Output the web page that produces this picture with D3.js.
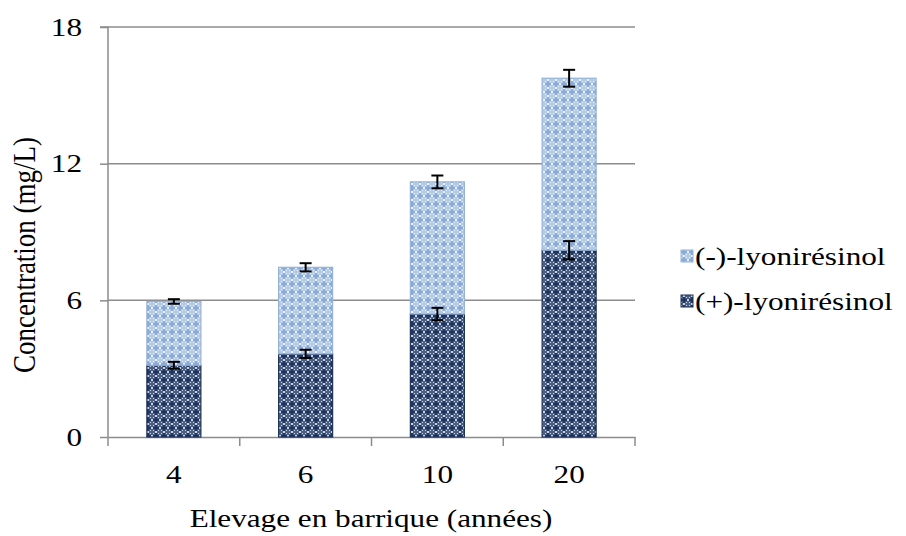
<!DOCTYPE html>
<html><head><meta charset="utf-8">
<script src="https://cdn.jsdelivr.net/npm/d3@7/dist/d3.min.js"></script>
</head><body style="margin:0"><svg id="c" width="906" height="536" font-family="Liberation Serif" style="display:block"></svg>
<script>
const categories = ["4", "6", "10", "20"];
const seriesNames = ["(+)-lyonirésinol", "(-)-lyonirésinol"];
const plusValues = [3.15, 3.65, 5.4, 8.2];
const plusErrors = [0.15, 0.18, 0.27, 0.4];
const minusValues = [2.8, 3.8, 5.8, 7.55];
const minusErrors = [0.1, 0.18, 0.28, 0.37];
const yTicks = [0, 6, 12, 18];

const FONT = "Liberation Serif";
const FS = 26, SX = 1.2;
const svg = d3.select("#c");
const m = {l:108, r:635, t:27, b:437};
const x = d3.scaleBand().domain(categories).range([m.l, m.r]).paddingInner(0.59).paddingOuter(0.295);
const y = d3.scaleLinear().domain([0, 18]).range([m.b, m.t]);
const defs = svg.append("defs");
function pat(id, base, dot, cross){
  const p = defs.append("pattern").attr("id", id).attr("patternUnits","userSpaceOnUse").attr("width",8).attr("height",8);
  p.append("rect").attr("width",8).attr("height",8).attr("fill",base);
  p.append("rect").attr("x",3).attr("y",1).attr("width",2).attr("height",6).attr("fill",cross);
  p.append("rect").attr("x",1).attr("y",3).attr("width",6).attr("height",2).attr("fill",cross);
  [[0,3],[0,4],[7,3],[7,4],[3,0],[4,0],[3,7],[4,7],[1,1],[6,1],[1,6],[6,6]].forEach(([a,b])=>
    p.append("rect").attr("x",a).attr("y",b).attr("width",1).attr("height",1).attr("fill",dot));
}
pat("pMinus", "#b3c9e8", "#eef3fa", "#8aaad8");
pat("pPlus", "#4a5f82", "#c9d3e2", "#1f3560");

svg.append("g").selectAll("line").data(yTicks.filter(d=>d>0)).join("line")
  .attr("x1", m.l).attr("x2", m.r).attr("y1", d=>y(d)).attr("y2", d=>y(d))
  .attr("stroke", "#8c8c8c").attr("stroke-width", 1.5);

const ya = svg.append("g").attr("transform",`translate(${m.l},0)`)
  .call(d3.axisLeft(y).tickValues(yTicks).tickSize(8).tickPadding(18));
ya.attr("font-family", FONT).attr("font-size", FS);
ya.select(".domain").attr("stroke","#8c8c8c").attr("stroke-width",1.5).attr("d",`M-8,${m.t}H0V${m.b}`);
ya.selectAll(".tick line").attr("stroke","#8c8c8c").attr("stroke-width",1.5);
ya.selectAll(".tick text").attr("fill","#000").attr("x", -26/SX).attr("transform",`scale(${SX},1)`);

const xa = svg.append("g").attr("transform",`translate(0,${m.b})`)
  .call(d3.axisBottom(x).tickSize(0).tickPadding(26));
xa.attr("font-family", FONT).attr("font-size", FS);
xa.select(".domain").attr("stroke","#8c8c8c").attr("stroke-width",1.5);
xa.selectAll(".tick text").attr("fill","#000").attr("dy","0.78em").attr("transform",`scale(${SX},1)`);
const bounds = [m.l].concat(categories.map(c=>x(c)+x.bandwidth()/2+x.step()/2));
svg.append("g").selectAll("line").data(bounds).join("line")
  .attr("x1",d=>d).attr("x2",d=>d).attr("y1",m.b).attr("y2",m.b+9)
  .attr("stroke","#8c8c8c").attr("stroke-width",1.5);

const gb = svg.append("g");
categories.forEach((c,i)=>{
  const bw = x.bandwidth();
  gb.append("rect").attr("x",x(c)).attr("width",bw).attr("y",y(plusValues[i])).attr("height",y(0)-y(plusValues[i]))
    .attr("fill","url(#pPlus)").attr("stroke","#1f3357").attr("stroke-width",1.2);
  const top = plusValues[i]+minusValues[i];
  gb.append("rect").attr("x",x(c)).attr("width",bw).attr("y",y(top)).attr("height",y(plusValues[i])-y(top))
    .attr("fill","url(#pMinus)").attr("stroke","#95b3d7").attr("stroke-width",1.2);
});
const eg = svg.append("g").attr("stroke","#000").attr("stroke-width",2);
categories.forEach((c,i)=>{
  const cx = x(c)+x.bandwidth()/2;
  [[plusValues[i], plusErrors[i]], [plusValues[i]+minusValues[i], minusErrors[i]]].forEach(([v,e])=>{
    eg.append("line").attr("x1",cx).attr("x2",cx).attr("y1",y(v-e)).attr("y2",y(v+e));
    eg.append("line").attr("x1",cx-6).attr("x2",cx+6).attr("y1",y(v-e)).attr("y2",y(v-e));
    eg.append("line").attr("x1",cx-6).attr("x2",cx+6).attr("y1",y(v+e)).attr("y2",y(v+e));
  });
});

svg.append("text").attr("transform",`translate(35,255) scale(${SX},1) rotate(-90)`).attr("text-anchor","middle")
  .attr("font-family",FONT).attr("font-size",FS+1).text("Concentration (mg/L)");
svg.append("text").attr("transform",`translate(371,527) scale(${SX},1)`).attr("text-anchor","middle")
  .attr("font-family",FONT).attr("font-size",FS).text("Elevage en barrique (années)");

const leg = [{n:seriesNames[1], f:"url(#pMinus)", s:"#95b3d7", y:256},{n:seriesNames[0], f:"url(#pPlus)", s:"#1f3357", y:301}];
const lg = svg.append("g");
leg.forEach(d=>{
  lg.append("rect").attr("x",681).attr("y",d.y-6).attr("width",12).attr("height",12).attr("fill",d.f).attr("stroke",d.s);
  lg.append("text").attr("transform",`translate(695,${d.y+9}) scale(${SX},1)`).attr("font-family",FONT).attr("font-size",FS).text(d.n);
});
</script></body></html>
